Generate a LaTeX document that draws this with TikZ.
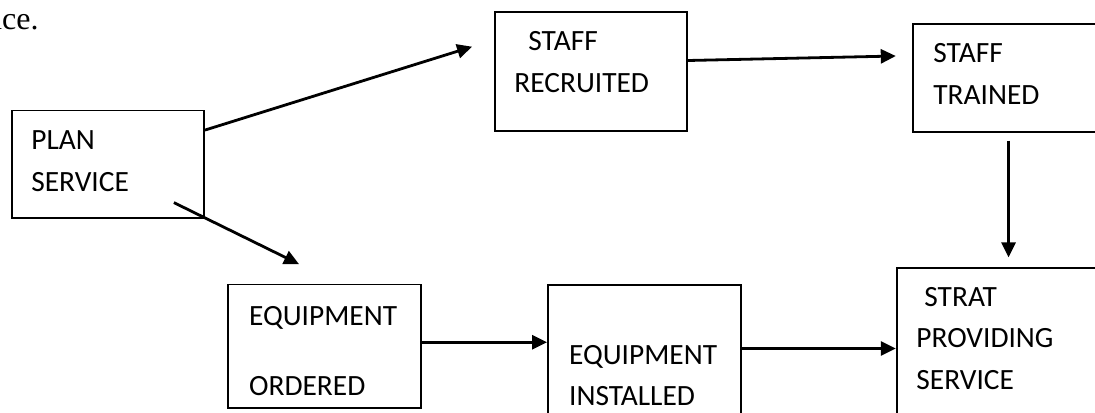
\documentclass[tikz,border=0pt]{standalone}
\usepackage{fontspec}
\setmainfont{Carlito}
\newfontfamily\bodyserif{Liberation Serif}
\usetikzlibrary{arrows.meta,calc}

\begin{document}
\begin{tikzpicture}[x=0.5pt,y=-0.5pt,
	box/.style={draw, rectangle, line width=0.9pt, inner sep=0pt},
	lbl/.style={anchor=base west, align=left, inner sep=0pt, font=\fontsize{14.7}{20.6}\selectfont},
	flow/.style={-{Triangle[length=7.5pt,width=7pt]}, line width=1.4pt}]
				\useasboundingbox (0,0) rectangle (1095,412);
				\clip (0,0) rectangle (1095,412);

				% end of the sentence above the chart
				\node[anchor=base east, inner sep=0pt, font=\bodyserif\fontsize{16}{19}\selectfont] (tail) at (39,29) {ace.};

				% Plan service (labels sit on the baseline of their last line)
				\node[box, minimum width=96pt, minimum height=53.75pt] (plan) at (108,164.25) {};
				\node[lbl] (planlbl) at (31,191) {PLAN\\SERVICE};

				% Staff recruited
				\node[box, minimum width=96pt, minimum height=59.5pt] (recruited) at (591,71.5) {};
				\node[lbl] (recruitedlbl) at (514,92) {\hspace*{7pt}STAFF\\RECRUITED};
				\draw[flow] ($(plan.north east)+(0,20.5)$) -- ($(recruited.west)+(-22,-24.8)$);

				% Staff trained
				\node[box, minimum width=95.8pt, minimum height=53.7pt] (trained) at (1008.5,78) {};
				\node[lbl] (trainedlbl) at (933,104) {STAFF\\TRAINED};
				\draw[flow] ($(recruited.east)+(0,-11)$) -- ($(trained.west)+(-16,-22)$);

				% Start providing service
				\node[box, minimum width=111.8pt, minimum height=80pt] (strat) at (1008.5,348.3) {};
				\node[lbl] (stratlbl) at (916,389) {\hspace*{4pt}STRAT\\PROVIDING\\SERVICE};
				\draw[flow, shorten <=4pt, shorten >=5pt] (trained) -- (strat);

				% Equipment ordered
				\node[box, minimum width=96.2pt, minimum height=61.75pt] (ordered) at (324.5,346.25) {};
				\node[lbl] (orderedlbl) at (248.7,395) {EQUIPMENT\\[14pt]ORDERED};
				\draw[flow] ($(plan.south east)+(-31,-16.3)$) -- ($(ordered.north)+(-25.5,-19.5)$);

				% Equipment installed
				\node[box, minimum width=96.35pt, minimum height=75pt] (installed) at (644.35,359.7) {};
				\node[lbl] (installedlbl) at (568.7,405.3) {EQUIPMENT\\INSTALLED};
				\coordinate (oe) at ($(ordered.east)+(0,-4)$);
				\draw[flow] (oe) -- (oe -| installed.west);
				\coordinate (ie) at ($(installed.east)+(0,-11.2)$);
				\draw[flow] (ie) -- (ie -| strat.west);
			\end{tikzpicture}
\end{document}
